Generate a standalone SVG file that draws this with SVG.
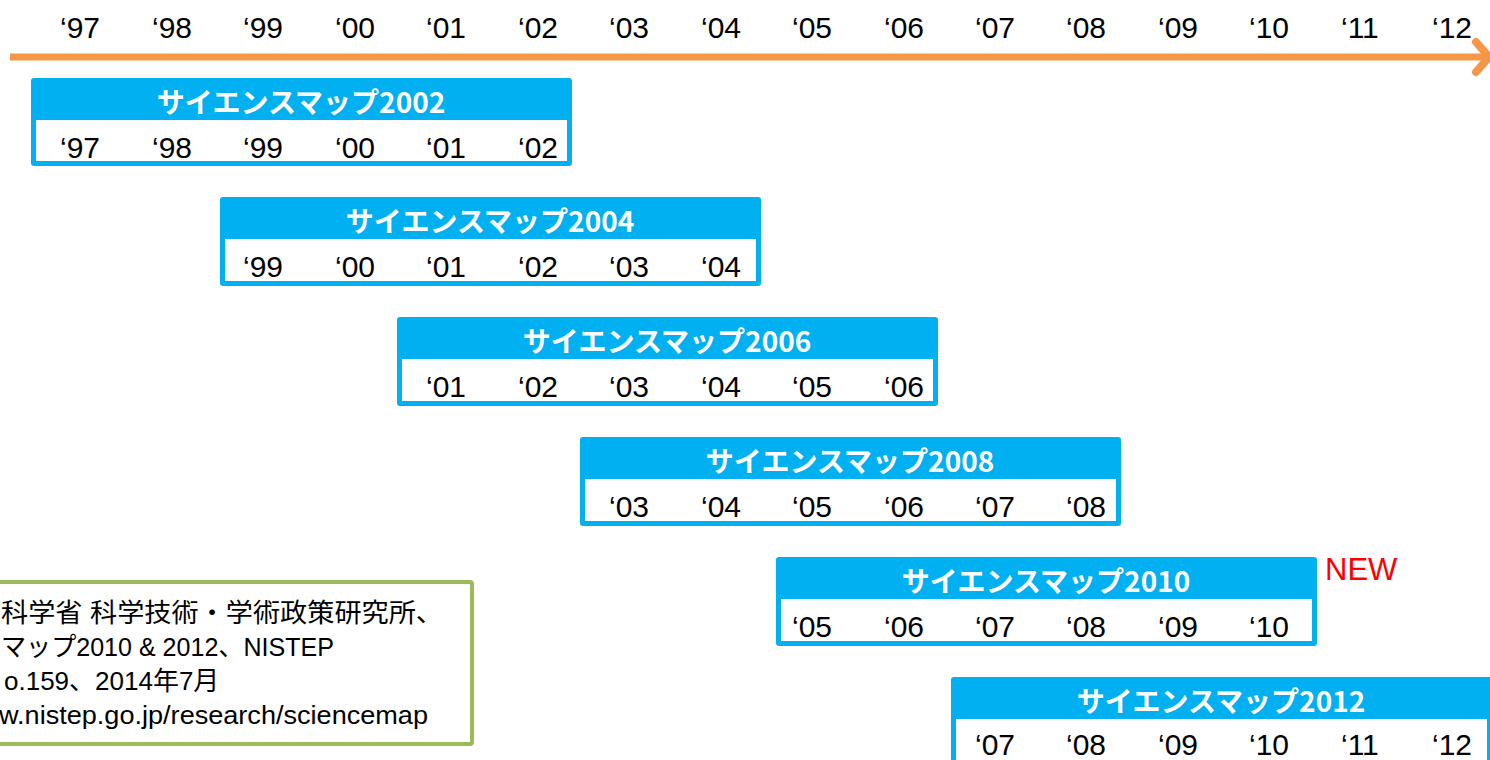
<svg xmlns="http://www.w3.org/2000/svg" width="1490" height="760" viewBox="0 0 1490 760">
<style>
.yr{font-family:"Liberation Sans","Noto Sans CJK JP",sans-serif;font-size:30px;fill:#000}
.hd{font-family:"Noto Sans CJK JP","Liberation Sans",sans-serif;font-size:28px;font-weight:bold;fill:#fff;text-anchor:middle}
.frame{fill:#00B0F0}
.inner{fill:#fff}
.src{font-family:"Liberation Sans","Noto Sans CJK JP",sans-serif;font-size:26px;fill:#000}
</style>
<rect width="1490" height="760" fill="#fff"/>
<g id="axis">
<line x1="10" y1="57" x2="1484" y2="57" stroke="#F79646" stroke-width="7"/>
<polyline points="1476,42 1489,57 1476,72" fill="none" stroke="#F79646" stroke-width="8" stroke-linecap="round" stroke-linejoin="round"/>
<g class="yr">
<text x="60" y="38">‘97</text><text x="152" y="38">‘98</text><text x="243" y="38">‘99</text><text x="335" y="38">‘00</text>
<text x="426" y="38">‘01</text><text x="518" y="38">‘02</text><text x="609" y="38">‘03</text><text x="701" y="38">‘04</text>
<text x="792" y="38">‘05</text><text x="884" y="38">‘06</text><text x="975" y="38">‘07</text><text x="1066" y="38">‘08</text>
<text x="1158" y="38">‘09</text><text x="1249" y="38">‘10</text><text x="1341" y="38">‘11</text><text x="1432" y="38">‘12</text>
</g>
</g>
<g id="map2002">
<rect class="frame" x="31" y="78" width="541" height="88" rx="3"/>
<rect class="inner" x="36" y="120" width="531" height="41"/>
<text class="hd" x="301" y="113">サイエンスマップ2002</text>
<g class="yr"><text x="60" y="158">‘97</text><text x="152" y="158">‘98</text><text x="243" y="158">‘99</text><text x="335" y="158">‘00</text><text x="426" y="158">‘01</text><text x="518" y="158">‘02</text></g>
</g>
<g id="map2004">
<rect class="frame" x="220" y="197" width="541" height="89" rx="3"/>
<rect class="inner" x="225" y="239" width="531" height="42"/>
<text class="hd" x="490" y="232">サイエンスマップ2004</text>
<g class="yr"><text x="243" y="277">‘99</text><text x="335" y="277">‘00</text><text x="426" y="277">‘01</text><text x="518" y="277">‘02</text><text x="609" y="277">‘03</text><text x="701" y="277">‘04</text></g>
</g>
<g id="map2006">
<rect class="frame" x="397" y="317" width="541" height="89" rx="3"/>
<rect class="inner" x="402" y="359" width="531" height="42"/>
<text class="hd" x="667" y="352">サイエンスマップ2006</text>
<g class="yr"><text x="426" y="397">‘01</text><text x="518" y="397">‘02</text><text x="609" y="397">‘03</text><text x="701" y="397">‘04</text><text x="792" y="397">‘05</text><text x="884" y="397">‘06</text></g>
</g>
<g id="map2008">
<rect class="frame" x="580" y="437" width="541" height="89" rx="3"/>
<rect class="inner" x="585" y="479" width="531" height="42"/>
<text class="hd" x="850" y="472">サイエンスマップ2008</text>
<g class="yr"><text x="609" y="517">‘03</text><text x="701" y="517">‘04</text><text x="792" y="517">‘05</text><text x="884" y="517">‘06</text><text x="975" y="517">‘07</text><text x="1066" y="517">‘08</text></g>
</g>
<g id="map2010">
<rect class="frame" x="776" y="557" width="541" height="89" rx="3"/>
<rect class="inner" x="781" y="599" width="531" height="42"/>
<text class="hd" x="1046" y="592">サイエンスマップ2010</text>
<g class="yr"><text x="792" y="637">‘05</text><text x="884" y="637">‘06</text><text x="975" y="637">‘07</text><text x="1066" y="637">‘08</text><text x="1158" y="637">‘09</text><text x="1249" y="637">‘10</text></g>
</g>
<g id="new">
<text x="1325" y="580" font-family="Liberation Sans, sans-serif" font-size="31" fill="#FF0000">NEW</text>
</g>
<g id="map2012">
<rect class="frame" x="951" y="677" width="541" height="89" rx="3"/>
<rect class="inner" x="956" y="719" width="531" height="42"/>
<text class="hd" x="1221" y="712">サイエンスマップ2012</text>
<g class="yr"><text x="975" y="755">‘07</text><text x="1066" y="755">‘08</text><text x="1158" y="755">‘09</text><text x="1249" y="755">‘10</text><text x="1341" y="755">‘11</text><text x="1432" y="755">‘12</text></g>
</g>
<g id="source">
<rect x="-20" y="582" width="492" height="162" fill="#fff" stroke="#9BBB59" stroke-width="4" rx="2"/>
<text class="src" x="1" y="622" textLength="442" lengthAdjust="spacingAndGlyphs">科学省 科学技術・学術政策研究所、</text>
<text class="src" x="1" y="656" textLength="333" lengthAdjust="spacingAndGlyphs">マップ2010 &amp; 2012、NISTEP</text>
<text class="src" x="4" y="690">o.159、2014年7月</text>
<text class="src" x="-1" y="724" textLength="429" lengthAdjust="spacingAndGlyphs">w.nistep.go.jp/research/sciencemap</text>
</g>
</svg>
